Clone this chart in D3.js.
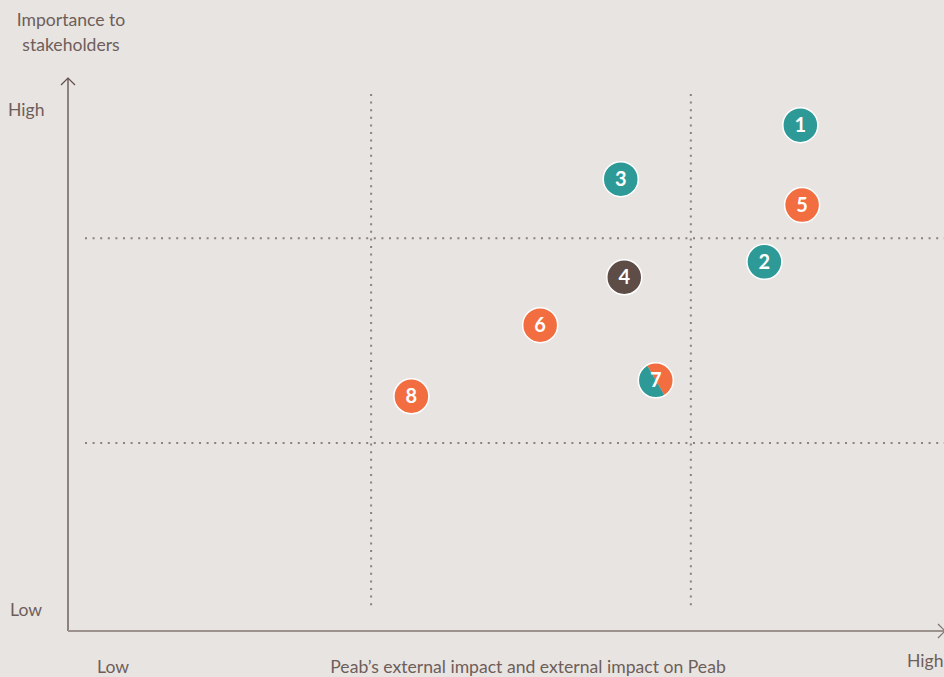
<!DOCTYPE html>
<html>
<head>
<meta charset="utf-8">
<script src="https://cdn.jsdelivr.net/npm/d3@7"></script>
<style>
  html, body { margin: 0; padding: 0; background: #e8e4e2; }
  svg { display: block; }
  text { font-family: "Lato", "Noto Sans", sans-serif; }
</style>
</head>
<body>
<div id="chart"></div>
<script>
// 议题编号、位置（0-100 相对刻度）和颜色分组
const issueIds = ["1", "2", "3", "4", "5", "6", "7", "8"];
const impactValues = [83.6, 79.5, 63.1, 63.5, 83.8, 53.9, 67.1, 39.2];
const importanceValues = [91.8, 67.0, 82.0, 64.2, 77.3, 55.5, 45.5, 42.6];
const issueGroups = ["teal", "teal", "teal", "brown", "orange", "orange", "split", "orange"];

// 分区虚线
const impactThresholds = [34.6, 71.1];
const importanceThresholds = [71.3, 34.1];

const width = 944, height = 677;
const colors = { teal: "#2e9a97", orange: "#f26d40", brown: "#5e4c47" };
const textColor = "#6e5e59";

const svg = d3.select("#chart")
  .append("svg")
  .attr("width", width)
  .attr("height", height);

const x = d3.scaleLinear().domain([0, 100]).range([68, 944]);
const y = d3.scaleLinear().domain([0, 100]).range([631, 80]);

// 虚线网格
const dotStyle = sel => sel
  .attr("stroke", "#8c817d")
  .attr("stroke-width", 2)
  .attr("stroke-dasharray", "2 5.6");

svg.selectAll("line.vdot")
  .data(impactThresholds)
  .enter()
  .append("line")
  .attr("class", "vdot")
  .attr("x1", d => x(d)).attr("x2", d => x(d))
  .attr("y1", 94).attr("y2", 610)
  .call(dotStyle);

svg.selectAll("line.hdot")
  .data(importanceThresholds)
  .enter()
  .append("line")
  .attr("class", "hdot")
  .attr("x1", 85).attr("x2", width)
  .attr("y1", d => y(d)).attr("y2", d => y(d))
  .call(dotStyle);

// 坐标轴
svg.append("line")
  .attr("x1", x(0)).attr("x2", x(0))
  .attr("y1", y(0)).attr("y2", 78)
  .attr("stroke", "#5e4c47").attr("stroke-width", 1.3);
svg.append("path")
  .attr("d", `M${x(0) - 7},${85} L${x(0)},${78} L${x(0) + 7},${85}`)
  .attr("fill", "none").attr("stroke", "#5e4c47").attr("stroke-width", 1.2);

svg.append("line")
  .attr("x1", x(0)).attr("x2", width)
  .attr("y1", y(0)).attr("y2", y(0))
  .attr("stroke", "#9b918d").attr("stroke-width", 2);
svg.append("path")
  .attr("d", `M${938},${y(0) - 7} L${945},${y(0)} L${938},${y(0) + 7}`)
  .attr("fill", "none").attr("stroke", "#7d716d").attr("stroke-width", 1.2);

// 轴标签
const label = (tx, ty, str, anchor) => svg.append("text")
  .attr("x", tx).attr("y", ty)
  .attr("text-anchor", anchor || "start")
  .attr("font-size", "17.6px")
  .attr("fill", textColor)
  .text(str);

label(71, 26, "Importance to", "middle");
label(71, 51, "stakeholders", "middle");
label(8, 116, "High");
label(10, 616, "Low");
label(97, 673, "Low");
label(528, 673, "Peab’s external impact and external impact on Peab", "middle");
label(907, 667, "High");

// 议题圆点
const r = 17.5;
const issues = issueIds.map((id, i) => ({
  id, impact: impactValues[i], importance: importanceValues[i], group: issueGroups[i]
}));

const nodes = svg.append("g")
  .selectAll("g")
  .data(issues)
  .enter()
  .append("g")
  .attr("transform", d => `translate(${x(d.impact)},${y(d.importance)})`);

nodes.filter(d => d.group !== "split")
  .append("circle")
  .attr("r", r)
  .attr("fill", d => colors[d.group]);

// 7号为双色
const halfArc = d3.arc().innerRadius(0).outerRadius(r);
const splitNode = nodes.filter(d => d.group === "split");
splitNode.append("path")
  .attr("d", halfArc({ startAngle: -Math.PI / 6, endAngle: Math.PI * 5 / 6 }))
  .attr("fill", colors.orange);
splitNode.append("path")
  .attr("d", halfArc({ startAngle: Math.PI * 5 / 6, endAngle: Math.PI * 11 / 6 }))
  .attr("fill", colors.teal);

nodes.append("circle")
  .attr("r", r)
  .attr("fill", "none")
  .attr("stroke", "#fff")
  .attr("stroke-width", 1.5);

nodes.append("text")
  .attr("text-anchor", "middle")
  .attr("dy", "0.36em")
  .attr("font-size", "20px")
  .attr("font-weight", "bold")
  .attr("fill", "#fff")
  .text(d => d.id);
</script>
</body>
</html>
